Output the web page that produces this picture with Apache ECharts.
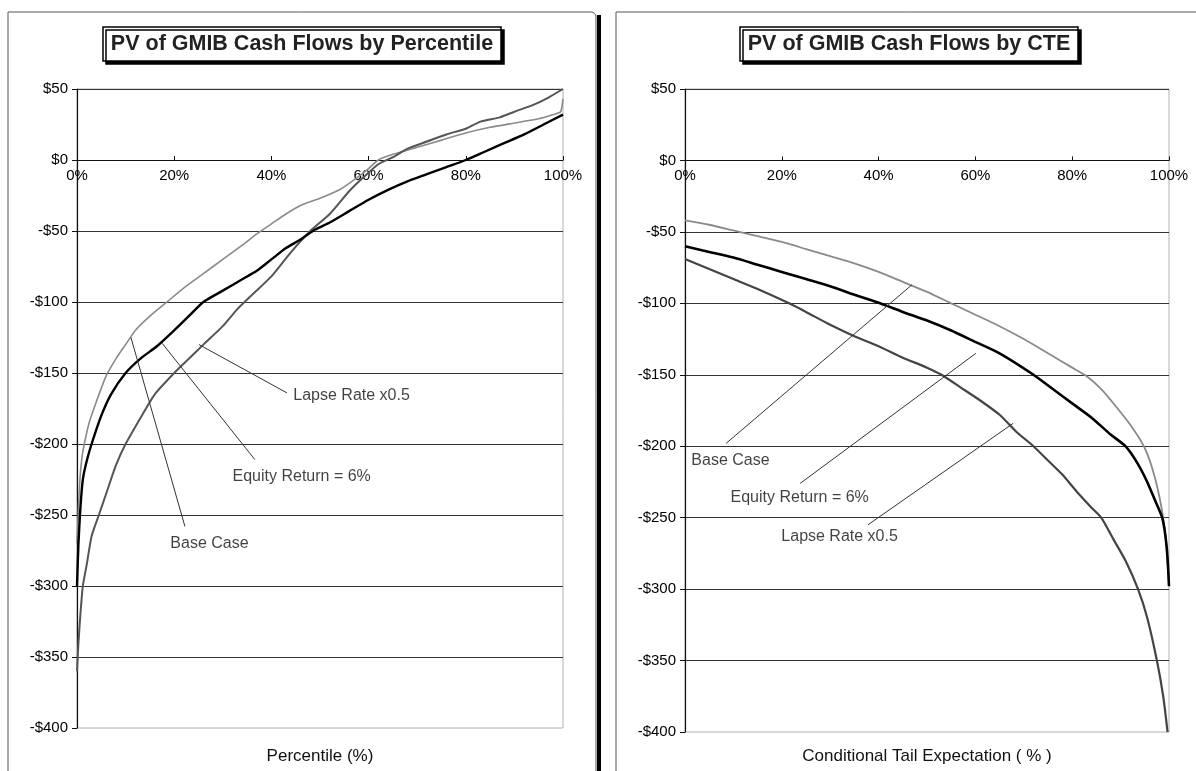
<!DOCTYPE html>
<html>
<head>
<meta charset="utf-8">
<script src="https://cdn.jsdelivr.net/npm/echarts@6/dist/echarts.min.js"></script>
<style>html,body{margin:0;padding:0;background:#fff}#c{width:1196px;height:771px}</style>
</head>
<body>
<div id="c"></div>
<script>
// ---- Data (percentile %, PV $) ----
const pctBase = [[0,-270],[0.3,-245],[0.6,-225],[1,-210],[1.5,-200],[2.5,-185],[4,-170],[6,-152],[8,-140],[10,-130],[12,-120],[15,-110],[18.5,-100],[22,-90],[26,-80],[30,-70],[34,-60],[37,-52],[40,-45],[43,-38],[46,-32],[50,-27],[54,-21],[57,-14],[60,-6],[62,0],[65,4],[70,9],[75,14],[80,19],[85,23],[90,26],[95,29],[98,32],[99.5,34],[100,43]];
const pctEquity = [[0,-300],[0.3,-270],[0.7,-245],[1.2,-225],[2,-212],[3,-200],[5,-180],[7,-165],[10,-150],[13,-140],[16.5,-131],[20,-120],[23,-110],[26,-100],[30,-92],[34,-84],[37,-78],[40,-70],[43,-62],[46,-56],[49,-49],[52,-44],[56,-36],[60,-28],[64,-21],[68,-15],[72,-10],[76,-5],[80,0],[84,6],[88,12],[92,18],[96,25],[100,32]];
const pctLapse = [[0,-360],[0.3,-340],[0.7,-320],[1.2,-300],[2,-285],[3,-265],[4.5,-250],[6,-235],[8,-215],[10,-200],[13,-182],[16,-165],[20,-150],[23,-140],[26,-130],[30,-117],[33,-105],[36,-95],[40,-82],[44,-65],[48,-50],[52,-38],[56,-22],[59,-12],[62,-3],[65,2],[68,8],[72,13],[76,18],[80,22],[83,27],[87,30],[90,34],[94,39],[97,44],[100,50]];

// ---- Data (CTE %, PV $) ----
const cteBase = [[0,-42],[5,-45],[10,-49],[15,-53],[20,-57],[25,-62],[30,-67],[35,-72],[40,-78],[45,-85],[50,-92],[55,-100],[60,-108],[65,-116],[70,-125],[75,-135],[80,-145],[83,-151],[86,-160],[89,-172],[92,-185],[94.8,-200],[96.5,-215],[98,-235],[99,-255],[99.6,-275],[100,-297]];
const cteEquity = [[0,-60],[5,-64],[10,-68],[15,-73],[20,-78],[25,-83],[30,-88],[35,-94],[40.3,-100],[45,-106],[50,-112],[55,-119],[60,-127],[65,-135],[72,-150],[76,-160],[80,-170],[84,-180],[88,-192],[91,-200],[93.5,-212],[95.5,-225],[97,-237],[98.6,-250],[99.5,-270],[100,-298]];
const cteLapse = [[0,-69],[5,-76],[10,-83],[15,-90],[21.5,-100],[25,-106],[30,-115],[35,-123],[40,-130],[45,-138],[50,-145],[53,-150],[57,-159],[61,-168],[65,-178],[68.5,-190],[72,-200],[75,-210],[78,-220],[81,-232],[84,-243],[86,-250],[88.5,-265],[91,-280],[93.6,-300],[95.5,-320],[97.5,-350],[98.8,-375],[99.7,-400]];

// ---- Annotations: [label, labelX, labelY, lineStartX, lineStartY, tipX, tipY] ----
const annotLeft = [
  ['Lapse Rate x0.5', 44.4, -166, 43.2, -164, 25.1, -130],
  ['Equity Return = 6%', 31.9, -223, 36.6, -211, 17.5, -129],
  ['Base Case', 19.1, -270, 22.2, -258, 11.1, -125]
];
const annotRight = [
  ['Base Case', 1.2, -210, 8.5, -198, 46.9, -87],
  ['Equity Return = 6%', 9.3, -236, 23.8, -226, 60.1, -135],
  ['Lapse Rate x0.5', 19.8, -263, 37.8, -255, 67.8, -184]
];

const titles = ['PV of GMIB Cash Flows by Percentile', 'PV of GMIB Cash Flows by CTE'];
const axisTitles = ['Percentile (%)', 'Conditional Tail Expectation ( % )'];
const Y_MIN = -400, Y_MAX = 50, Y_STEP = 50;

const FONT = 'Liberation Sans, Arial, sans-serif';
const chart = echarts.init(document.getElementById('c'), null, {renderer: 'canvas'});

const grids = [
  {left: 77, top: 89, width: 486, height: 639},
  {left: 685, top: 89, width: 484, height: 643}
];

function yFmt(v) { return (v < 0 ? '-$' : '$') + Math.abs(v); }

function xAxisDef(i) {
  const g = grids[i];
  // put the category axis on the $0 line (offset from the bottom of the grid)
  const zeroOffset = -g.height * (0 - Y_MIN) / (Y_MAX - Y_MIN);
  return {
    gridIndex: i, type: 'value', min: 0, max: 100, interval: 20, position: 'bottom', offset: zeroOffset,
    axisLine: {show: true, onZero: false, lineStyle: {color: '#111', width: 1.2}},
    axisTick: {show: true, inside: true, length: 4, lineStyle: {color: '#111'}},
    axisLabel: {formatter: '{value}%', margin: 8, fontFamily: FONT, fontSize: 15, color: '#000'},
    splitLine: {show: false}
  };
}
function yAxisDef(i) {
  return {
    gridIndex: i, type: 'value', min: Y_MIN, max: Y_MAX, interval: Y_STEP,
    axisLine: {show: true, onZero: false, lineStyle: {color: '#111', width: 1.2}},
    axisTick: {show: true, inside: false, length: 5, lineStyle: {color: '#111'}},
    axisLabel: {formatter: yFmt, margin: 9, fontFamily: FONT, fontSize: 15, color: '#000'},
    splitLine: {show: true, showMinLine: false, lineStyle: {color: '#333', width: 1}}
  };
}
function lineSeries(i, data, color, width) {
  return {type: 'line', xAxisIndex: i, yAxisIndex: i, data: data, showSymbol: false, symbol: 'none',
    smooth: 0.2, lineStyle: {color: color, width: width}, animation: false, silent: true, z: 3};
}
function annotSeries(i, ann) {
  return {
    type: 'scatter', xAxisIndex: i, yAxisIndex: i, symbolSize: 1, itemStyle: {color: 'rgba(0,0,0,0)'},
    data: ann.map(a => [a[1], a[2], a[0]]),
    label: {show: true, position: 'right', distance: 0, formatter: p => p.data[2],
      fontFamily: FONT, fontSize: 16, color: '#111'},
    markLine: {
      silent: true, animation: false, symbol: ['none', 'arrow'], symbolSize: [0, 9],
      lineStyle: {type: 'solid', color: '#333', width: 1}, label: {show: false},
      data: ann.map(a => [{coord: [a[3], a[4]]}, {coord: [a[5], a[6]]}])
    },
    animation: false, silent: true, z: 4
  };
}

const titleBase = {
  textAlign: 'center', top: 27, padding: [6, 8, 6, 8], backgroundColor: '#fff',
  borderColor: '#000', borderWidth: 1.5, shadowColor: '#000', shadowOffsetX: 3, shadowOffsetY: 3, shadowBlur: 0,
  textStyle: {fontFamily: FONT, fontSize: 21.5, fontWeight: 'bold', color: '#222'}
};

chart.setOption({
  animation: false,
  backgroundColor: '#fff',
  graphic: [
    {type: 'rect', shape: {x: 8, y: 12, width: 588, height: 820, r: [0, 5, 0, 0]}, style: {fill: 'none', stroke: '#555', lineWidth: 1}, z: -10},
    {type: 'rect', shape: {x: 597, y: 15, width: 4, height: 820}, style: {fill: '#000'}, z: -10},
    {type: 'rect', shape: {x: 616, y: 12, width: 700, height: 820}, style: {fill: 'none', stroke: '#555', lineWidth: 1}, z: -10}
  ],
  title: [
    Object.assign({}, titleBase, {text: titles[0], left: 294}),
    Object.assign({}, titleBase, {text: titles[1], left: 901}),
    {text: axisTitles[0], left: 320, top: 748, textAlign: 'center', padding: 0,
      textStyle: {fontFamily: FONT, fontSize: 17, fontWeight: 'normal', color: '#111'}},
    {text: axisTitles[1], left: 927, top: 748, textAlign: 'center', padding: 0,
      textStyle: {fontFamily: FONT, fontSize: 17, fontWeight: 'normal', color: '#111'}}
  ],
  grid: grids.map(g => Object.assign({show: true, borderColor: '#b0b0b0', borderWidth: 1, backgroundColor: 'rgba(0,0,0,0)', containLabel: false}, g)),
  xAxis: [xAxisDef(0), xAxisDef(1)],
  yAxis: [yAxisDef(0), yAxisDef(1)],
  series: [
    lineSeries(0, pctBase, '#8a8a8a', 1.6),
    lineSeries(0, pctLapse, '#555', 2),
    lineSeries(0, pctEquity, '#000', 2.4),
    lineSeries(1, cteBase, '#8a8a8a', 1.8),
    lineSeries(1, cteLapse, '#444', 2.2),
    lineSeries(1, cteEquity, '#000', 2.6),
    annotSeries(0, annotLeft),
    annotSeries(1, annotRight)
  ]
});
</script>
</body>
</html>
